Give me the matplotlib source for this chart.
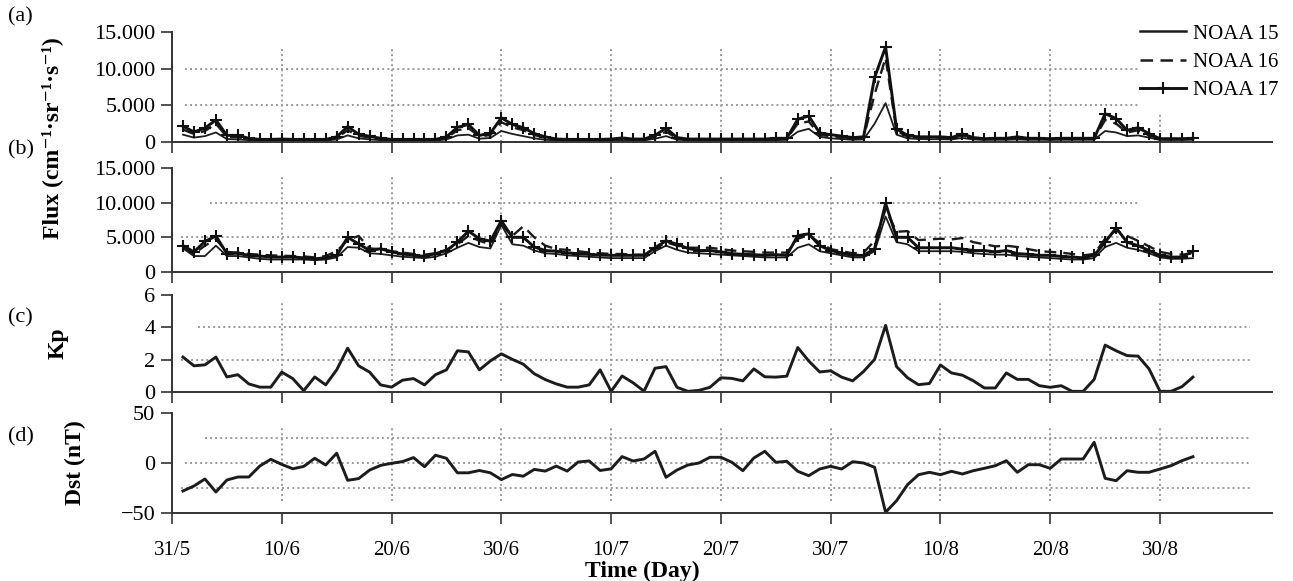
import numpy as np
import matplotlib
matplotlib.use('Agg')
import matplotlib.pyplot as plt
from matplotlib.lines import Line2D

plt.rcParams['font.family'] = ['Liberation Serif', 'DejaVu Serif']

# ---- data (one value per sample, samples 1..93) ----
tick_pos = [0, 10, 20, 30, 40, 50, 60, 70, 80, 90]
tick_labels = ['31/5', '10/6', '20/6', '30/6', '10/7', '20/7', '30/7', '10/8', '20/8', '30/8']

flux_a_n15 = [1000, 600, 800, 1300, 400, 350, 250, 200, 200, 220,
              200, 200, 200, 200, 350, 900, 500, 350, 250, 200,
              200, 200, 200, 200, 350, 900, 1000, 450, 550, 1500,
              1100, 800, 500, 300, 220, 200, 200, 200, 200, 220,
              280, 220, 220, 450, 800, 320, 220, 220, 220, 220,
              220, 220, 220, 220, 250, 300, 1400, 1800, 700, 500,
              400, 300, 350, 2500, 5300, 1000, 500, 400, 380, 380,
              350, 550, 350, 280, 300, 300, 350, 300, 300, 280,
              300, 300, 300, 300, 1500, 1300, 800, 900, 600, 280,
              280, 280, 300]
flux_a_n16 = [1700, 1100, 1500, 2500, 700, 650, 400, 300, 300, 350,
              300, 300, 300, 300, 550, 1600, 850, 600, 400, 300,
              300, 300, 300, 300, 550, 1600, 1900, 750, 950, 2700,
              2000, 1600, 950, 550, 350, 300, 300, 300, 300, 350,
              450, 350, 350, 700, 1400, 500, 350, 350, 350, 350,
              350, 350, 350, 350, 400, 450, 2500, 2800, 950, 800,
              650, 500, 600, 6500, 11500, 1500, 750, 600, 600, 600,
              500, 900, 500, 400, 450, 450, 550, 450, 450, 400,
              450, 450, 450, 450, 3000, 2500, 1300, 1600, 900, 400,
              400, 400, 450]
flux_a_n17 = [2150, 1370, 1900, 3000, 900, 900, 500, 350, 350, 400,
              350, 350, 350, 350, 700, 2100, 1050, 780, 500, 350,
              350, 350, 350, 350, 700, 2000, 2400, 900, 1200, 3300,
              2400, 1950, 1150, 700, 400, 350, 350, 350, 350, 400,
              550, 400, 400, 900, 1900, 600, 400, 400, 400, 400,
              400, 400, 400, 400, 500, 500, 3100, 3550, 1230, 1000,
              800, 600, 700, 8800, 12950, 1800, 900, 700, 700, 700,
              600, 1100, 600, 450, 500, 500, 700, 500, 500, 450,
              500, 500, 500, 500, 3860, 3200, 1600, 1950, 1140, 450,
              450, 450, 500]

flux_b_n15 = [3400, 2300, 2300, 3800, 2300, 2300, 2100, 1900, 1800, 1800,
              1800, 1800, 1700, 1800, 2100, 3600, 3500, 2700, 2600, 2400,
              2200, 2100, 2000, 2200, 2700, 3500, 4200, 3600, 3400, 6800,
              4000, 3800, 3100, 2700, 2600, 2400, 2300, 2200, 2100, 2000,
              2000, 2000, 2000, 3000, 3800, 3200, 2800, 2700, 2600, 2500,
              2400, 2300, 2200, 2100, 2100, 2100, 3500, 4000, 3000, 2700,
              2400, 2100, 2100, 3000, 8000, 4300, 4000, 3000, 3000, 3000,
              3000, 2900, 2700, 2600, 2500, 2500, 2300, 2200, 2100, 2000,
              1900, 1800, 1800, 2000, 3600, 4200, 3500, 3200, 2700, 2100,
              1900, 1900, 2000]
flux_b_n16 = [3500, 2600, 3800, 4700, 2900, 2800, 2600, 2500, 2400, 2350,
              2300, 2250, 2100, 2300, 3000, 4600, 5200, 3400, 3300, 3000,
              2800, 2600, 2500, 2700, 3200, 4000, 5200, 4500, 4000, 6800,
              5200, 6600, 5000, 3800, 3300, 3200, 3000, 2800, 2700, 2600,
              2600, 2500, 2500, 3300, 4300, 3800, 3500, 3500, 3500, 3300,
              3100, 3000, 2900, 2800, 2800, 2800, 4800, 5300, 4200, 3300,
              3000, 2700, 2800, 4500, 9000, 5800, 5900, 4600, 4700, 4800,
              4700, 4900, 4300, 4000, 3700, 3800, 3600, 3300, 3000, 2900,
              2800, 2600, 2400, 2600, 4800, 6000, 5200, 4500, 3700, 2900,
              2600, 2500, 2700]
flux_b_n17 = [3800, 2900, 4400, 5200, 2650, 2700, 2400, 2300, 2150, 2150,
              2150, 2050, 1900, 2050, 2400, 5000, 4050, 3100, 3350, 2900,
              2600, 2400, 2250, 2650, 3100, 4300, 5900, 4800, 4450, 7400,
              5000, 5000, 3600, 3100, 3000, 2750, 2650, 2550, 2450, 2400,
              2400, 2400, 2400, 3500, 4500, 4000, 3400, 3100, 3100, 2900,
              2650, 2550, 2500, 2400, 2500, 2400, 5250, 5500, 3800, 3100,
              2750, 2400, 2400, 3350, 9900, 5000, 5000, 3500, 3500, 3500,
              3500, 3300, 3100, 3100, 2900, 3100, 2650, 2550, 2400, 2400,
              2250, 2150, 2050, 2400, 4300, 6350, 4300, 3800, 3100, 2400,
              2150, 2150, 3000]

kp = [2.16, 1.62, 1.68, 2.16, 0.93, 1.07, 0.50, 0.30, 0.30, 1.23,
      0.83, 0.08, 0.93, 0.44, 1.37, 2.71, 1.62, 1.23, 0.44, 0.30,
      0.73, 0.83, 0.44, 1.07, 1.37, 2.55, 2.48, 1.37, 1.92, 2.36,
      2.02, 1.72, 1.13, 0.77, 0.50, 0.30, 0.30, 0.44, 1.37, 0.04,
      0.99, 0.57, 0.05, 1.47, 1.57, 0.29, 0.04, 0.10, 0.29, 0.88,
      0.84, 0.69, 1.43, 0.94, 0.92, 0.98, 2.75, 1.92, 1.24, 1.31,
      0.92, 0.69, 1.27, 2.02, 4.12, 1.57, 0.88, 0.45, 0.53, 1.67,
      1.18, 1.04, 0.69, 0.25, 0.25, 1.18, 0.78, 0.78, 0.39, 0.29,
      0.39, 0.04, 0.04, 0.78, 2.90, 2.55, 2.25, 2.22, 1.43, 0.04,
      0.04, 0.33, 0.92]

dst = [-28, -23, -16, -29, -17, -14, -14, -3, 3.7, -1.4,
       -5.8, -3.4, 4.7, -2, 9.8, -17.3, -15.6, -7.1, -2.4, -0.3,
       1.4, 5.4, -3.7, 7.8, 4.7, -9.8, -9.8, -7.5, -9.8, -16.6,
       -11.5, -13.2, -6.4, -8.1, -3.1, -8.1, 1, 2, -7.5, -5.8,
       6.4, 2, 4, 11.7, -14.3, -7, -2, 0, 5.7, 5.7,
       0.7, -7.7, 5, 11.7, 0.7, 1.7, -8.3, -12.7, -6, -3.3,
       -6, 1.3, 0, -4.3, -49.3, -37.7, -21.7, -11.7, -9.3, -11.7,
       -8.3, -11, -7.7, -5.3, -2.7, 2.3, -9.3, -1.7, -1.7, -5.3,
       4, 4, 4, 20.7, -15.3, -17.7, -7.7, -9.3, -9.3, -6,
       -2.7, 2.3, 6.3]

sample = np.arange(1, len(kp) + 1)

W, H = 1293, 581
fig = plt.figure(figsize=(W / 100, H / 100), dpi=100)

FS = 16
INK = '#1c1c1c'
GRID = '#9a9a9a'


def make_axes(top, bottom):
    ax = fig.add_axes([172 / W, 1 - bottom / H, 1100 / W, (bottom - top) / H])
    ax.spines['top'].set_visible(False)
    ax.spines['right'].set_visible(False)
    for s in ('left', 'bottom'):
        ax.spines[s].set_color('#333333')
        ax.spines[s].set_linewidth(1.4)
    ax.tick_params(direction='out', length=8, width=1.2, color='#333333',
                   labelsize=FS, pad=4)
    ax.tick_params(axis='x', labelsize=15)
    ax.set_xlim(0, 100.2)
    ax.set_xticks(tick_pos)
    ax.set_xticklabels(tick_labels)
    return ax


def grid(ax, hvals, hstarts, hend, vlo, vhi, short90=None):
    for y, x0 in zip(hvals, hstarts):
        ax.hlines(y, x0, hend, colors=GRID, linestyles=(0, (1, 1.6)), lw=1.4, zorder=0)
    for t in tick_pos[1:]:
        top = vhi
        if t == 90 and short90 is not None:
            top = short90
        ax.vlines(t, vlo, top, colors=GRID, linestyles=(0, (1, 1.6)), lw=1.4, zorder=0)


def flux_lines(ax, n15, n16, n17):
    ax.plot(sample, n15, color=INK, lw=1.3)
    ax.plot(sample, n16, color=INK, lw=1.7, dashes=(5, 3))
    ax.plot(sample, n17, color='#111111', lw=2.1, marker='+', ms=8, mew=1.5)


flux_ticks = [0, 5000, 10000, 15000]
flux_tlabels = ['0', '5.000', '10.000', '15.000']

# (a)
ax_a = make_axes(32, 142)
flux_lines(ax_a, flux_a_n15, flux_a_n16, flux_a_n17)
grid(ax_a, [5000, 10000], [1.2, 1.2], 88.2, 0, 13000, short90=4000)
ax_a.set_ylim(0, 15000)
ax_a.set_yticks(flux_ticks)
ax_a.set_yticklabels(flux_tlabels)
ax_a.tick_params(labelbottom=False)

# (b)
ax_b = make_axes(168, 272)
flux_lines(ax_b, flux_b_n15, flux_b_n16, flux_b_n17)
grid(ax_b, [5000, 10000], [0.8, 3.5], 88.2, 1000, 13700, short90=4500)
ax_b.set_ylim(0, 15000)
ax_b.set_yticks(flux_ticks)
ax_b.set_yticklabels(flux_tlabels)
ax_b.tick_params(labelbottom=False)

# (c)
ax_c = make_axes(295, 392)
ax_c.plot(sample, kp, color=INK, lw=2.1)
grid(ax_c, [2, 4], [0.8, 2.4], 98.2, 0.7, 5.6)
ax_c.set_ylim(0, 6)
ax_c.set_yticks([0, 2, 4, 6])
ax_c.tick_params(labelbottom=False)

# (d)
ax_d = make_axes(413, 513)
ax_d.plot(sample, dst, color=INK, lw=2.1)
grid(ax_d, [-25, 0, 25], [0.8, 1.2, 3.0], 98.2, -38, 36)
ax_d.set_ylim(-50, 50)
ax_d.set_yticks([-50, 0, 50])
ax_d.set_yticklabels(['\u221250', '0', '50'])
ax_d.tick_params(axis='x', pad=12)

# legend
handles = [Line2D([], [], color=INK, lw=1.8),
           Line2D([], [], color=INK, lw=1.8, dashes=(5, 3)),
           Line2D([], [], color='#111111', lw=2.1, marker='+', ms=9, mew=1.5)]
fig.legend(handles, ['NOAA 15', 'NOAA 16', 'NOAA 17'], loc='upper left',
           bbox_to_anchor=(1140 / W, 1 - 24 / H), frameon=False, fontsize=15,
           handlelength=2.2, handletextpad=0.35, labelspacing=0.42,
           borderpad=0, borderaxespad=0)

# labels
fig.text(52 / W, 1 - 138 / H, 'Flux (cm\u207b\u00b9\u00b7sr\u207b\u00b9\u00b7s\u207b\u00b9)',
         rotation=90, ha='center', va='center', fontsize=17, fontweight='bold')
fig.text(58 / W, 1 - 343 / H, 'Kp', rotation=90, ha='center', va='center',
         fontsize=17, fontweight='bold')
fig.text(75 / W, 1 - 463 / H, 'Dst (nT)', rotation=90, ha='center', va='center',
         fontsize=17, fontweight='bold')
fig.text(642 / W, 1 - 571 / H, 'Time (Day)', ha='center', va='center',
         fontsize=17, fontweight='bold')

for lab, y in [('(a)', 17), ('(b)', 150), ('(c)', 318), ('(d)', 437)]:
    fig.text(8 / W, 1 - y / H, lab, ha='left', va='center', fontsize=16)

fig.savefig('out.png', dpi=100)
